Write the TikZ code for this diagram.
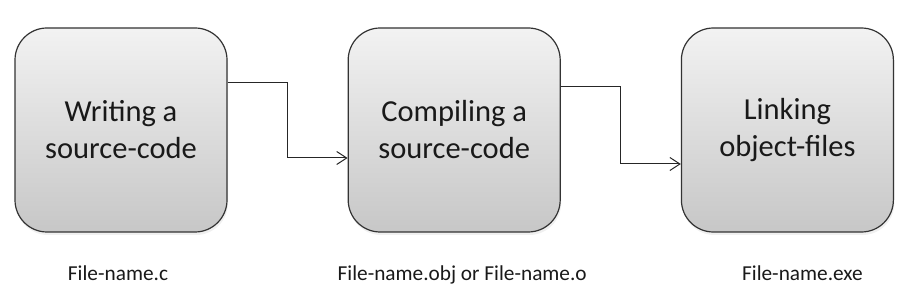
\documentclass[tikz,border=0pt]{standalone}
\usepackage{fontspec}
\setmainfont{Carlito}
\usetikzlibrary{arrows.meta,positioning,shadows}

\begin{document}
\begin{tikzpicture}[
  x=1pt, y=-1pt,
  stage/.style={draw=black!80, line width=1.2pt, rounded corners=32pt, align=center,
    minimum width=212pt, minimum height=204pt, top color=black!5, bottom color=black!22,
    font=\fontsize{30.5}{37}\selectfont, text=black!90,
    drop shadow={opacity=0.12, shadow xshift=1pt, shadow yshift=-3pt}},
  lbl/.style={font=\fontsize{21.3}{25}\selectfont, text=black!90, anchor=base},
  conn/.style={-{Straight Barb[length=10pt,width=13pt]}, line width=1pt, black!85},
]
\useasboundingbox (0,0) rectangle (900,291);
\node[stage] (write) at (121,130) {Writing a\\source-code};
\node[stage, right=120pt of write] (compile) {Compiling a\\source-code};
\node[stage, right=120pt of compile] (link) {Linking\\object-files};
\draw[conn] ([yshift=47pt]write.east) -- ++(60,0) |- ([yshift=-28pt]compile.west);
\draw[conn] ([yshift=43pt]compile.east) -- ++(60,0) |- ([yshift=-34pt]link.west);
\node[lbl] (csrc) at ([xshift=-3pt, yshift=-48pt]write.south) {File-name.c};
\node[lbl] (obj) at ([xshift=8pt, yshift=-48pt]compile.south) {File-name.obj or File-name.o};
\node[lbl] (exe) at ([xshift=15pt, yshift=-48pt]link.south) {File-name.exe};
\end{tikzpicture}
\end{document}
